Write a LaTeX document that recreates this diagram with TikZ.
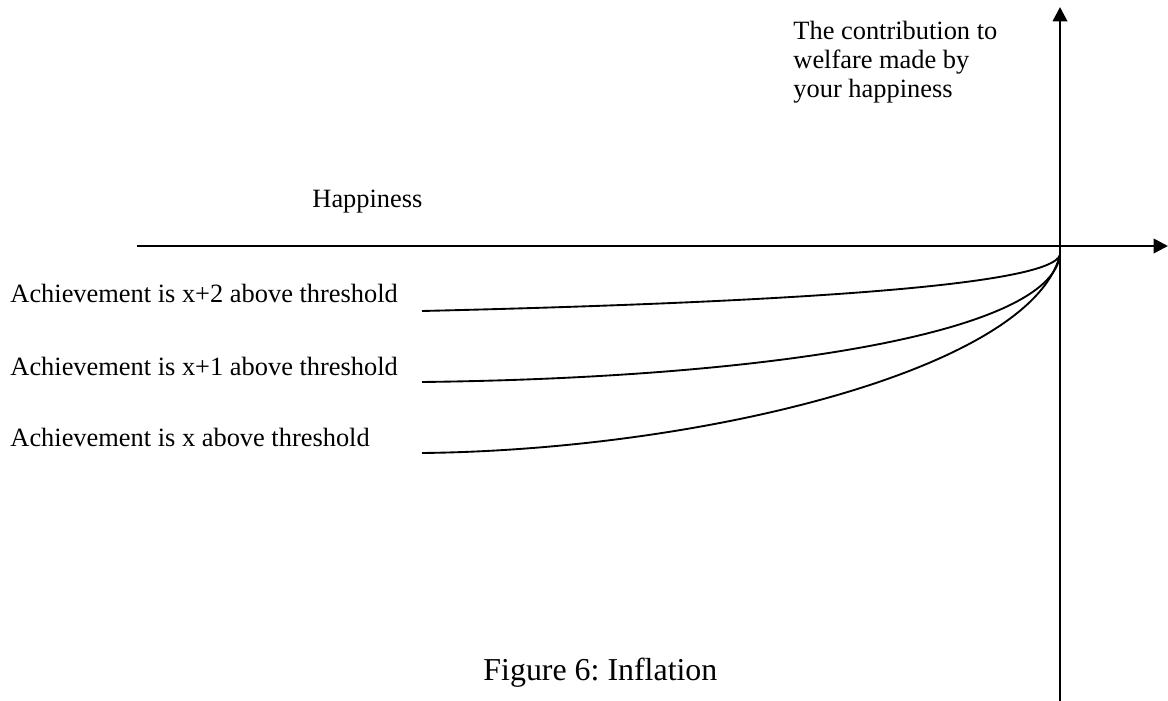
\documentclass[tikz,border=0pt]{standalone}
\usepackage{fontspec}
\setmainfont{Liberation Serif}
\usepackage{tikz}
\usetikzlibrary{arrows.meta,calc,positioning}

\begin{document}
\begin{tikzpicture}[
    x=0.4545pt, y=-0.4545pt,
    nosep/.style={inner sep=0},
    lbl/.style={nosep, anchor=base west, align=left, font=\fontsize{12}{13.4}\selectfont},
    axis/.style={line width=1.15pt, -{Triangle[length=6.5pt, width=6.5pt]}},
    curve/.style={line width=0.85pt}]
\useasboundingbox (0,0) rectangle (1168,701);

\coordinate (hstart) at (137,246);
\coordinate (hend)   at (1168,246);
\coordinate (vstart) at (1060,701);
\coordinate (vend)   at (1060,7);
\coordinate (origin) at (1060,255);

\path[draw, axis] (hstart) -- (hend);
\path[draw, axis] (vstart) -- (vend);

% base of a multi-line node is its last line
\node[lbl] (welfare)   at (793,98)  {The contribution to\\welfare made by\\your happiness};
\node[lbl] (happiness) at (312,208) {Happiness};

\node[lbl] (achtwo)  at (10,303) {Achievement is x+2 above threshold};
\node[lbl] (achone)  at (10,376) {Achievement is x+1 above threshold};
\node[lbl] (achzero) at (10,447) {Achievement is x above threshold};

\coordinate (starttwo)  at (422,311);
\coordinate (startone)  at (422,382);
\coordinate (startzero) at (422,453);

\path[draw, curve] (starttwo)  .. controls (800,302) and (1050,285) .. (origin);
\path[draw, curve] (startone)  .. controls (760,378) and (1050,335) .. (origin);
\path[draw, curve] (startzero) .. controls (700,450) and (1030,370) .. (origin);

\node[nosep, anchor=base west, font=\fontsize{14.5}{17}\selectfont] (caption) at (483,680) {Figure 6:\ Inflation};

\end{tikzpicture}
\end{document}
